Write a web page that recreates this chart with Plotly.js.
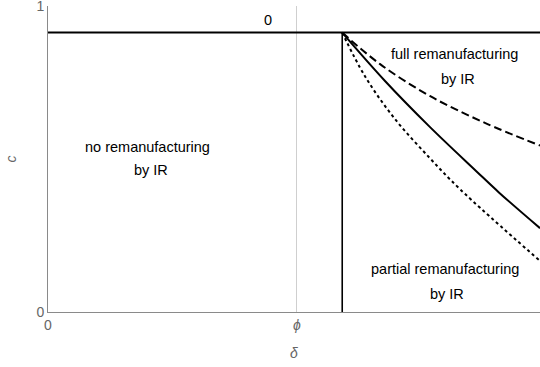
<!DOCTYPE html>
<html>
<head>
<meta charset="utf-8">
<script src="https://cdn.plot.ly/plotly-3.0.1.min.js"></script>
<style>html,body{margin:0;padding:0;background:#fff;}#chart{width:540px;height:367px;}</style>
</head>
<body>
<div id="chart"></div>
<script>
// threshold values
const phi = 0.506;           // δ = φ
const deltaSplit = 0.598;    // vertical boundary
const cTop = 0.913;          // horizontal boundary

// boundary curves (δ, c)
const dashedX = [0.598, 0.675, 0.776, 0.888, 1.0];
const dashedY = [0.913, 0.810, 0.706, 0.618, 0.544];
const solidX  = [0.598, 0.685, 0.776, 0.870, 0.917, 1.0];
const solidY  = [0.913, 0.755, 0.605, 0.461, 0.390, 0.274];
const dottedX = [0.598, 0.644, 0.705, 0.776, 0.837, 1.0];
const dottedY = [0.913, 0.771, 0.631, 0.503, 0.402, 0.167];

const xTickVals = [0, phi];
const xTickText = ['0', '<i>ϕ</i>'];
const yTickVals = [0, 1];
const yTickText = ['0', '1'];

const regionLabels = [
  {x: 0.827, y: 0.843, text: 'full remanufacturing'},
  {x: 0.833, y: 0.760, text: 'by IR'},
  {x: 0.203, y: 0.539, text: 'no remanufacturing'},
  {x: 0.209, y: 0.464, text: 'by IR'},
  {x: 0.807, y: 0.140, text: 'partial remanufacturing'},
  {x: 0.811, y: 0.059, text: 'by IR'},
  {x: 0.447, y: 0.953, text: '0'}
];

const blk = '#000';
const traces = [
  {x: [0, 1], y: [cTop, cTop], mode: 'lines', line: {color: blk, width: 2}},
  {x: [deltaSplit, deltaSplit], y: [0, cTop], mode: 'lines', line: {color: blk, width: 1.6}},
  {x: dashedX, y: dashedY, mode: 'lines', line: {color: blk, width: 2, dash: '8px,4px', shape: 'spline'}},
  {x: solidX, y: solidY, mode: 'lines', line: {color: blk, width: 2, shape: 'spline'}},
  {x: dottedX, y: dottedY, mode: 'lines', line: {color: blk, width: 2, dash: 'dot', shape: 'spline'}}
];

const font = {family: 'Liberation Sans, Arial, sans-serif', size: 14.5, color: '#000'};

const layout = {
  width: 540, height: 367,
  margin: {l: 48, r: 0, t: 6, b: 55},
  paper_bgcolor: '#fff', plot_bgcolor: '#fff',
  showlegend: false,
  font: font,
  xaxis: {
    range: [0, 1], fixedrange: true,
    tickvals: xTickVals, ticktext: xTickText,
    showgrid: true, gridcolor: '#cfcfcf', gridwidth: 1,
    zeroline: false, showline: true, linecolor: '#8a8a8a', linewidth: 1,
    ticks: '', ticklabeloverflow: 'allow', tickfont: {family: font.family, size: 14, color: '#666'},
    title: {text: '<i>δ</i>', font: {family: font.family, size: 14, color: '#666'}, standoff: 16}
  },
  yaxis: {
    range: [0, 1], fixedrange: true,
    tickvals: yTickVals, ticktext: yTickText,
    showgrid: true, gridcolor: '#8a8a8a', gridwidth: 1,
    zeroline: false, showline: true, linecolor: '#8a8a8a', linewidth: 1,
    ticks: '', ticklabeloverflow: 'allow', tickfont: {family: font.family, size: 14, color: '#666'},
    title: {text: '<i>c</i>', font: {family: font.family, size: 14, color: '#666'}, standoff: 16}
  },
  annotations: regionLabels.map(l => ({
    x: l.x, y: l.y, xref: 'x', yref: 'y', text: l.text, showarrow: false,
    xanchor: 'center', yanchor: 'middle', font: font
  }))
};

Plotly.newPlot('chart', traces, layout, {displayModeBar: false, staticPlot: true});
</script>
</body>
</html>
